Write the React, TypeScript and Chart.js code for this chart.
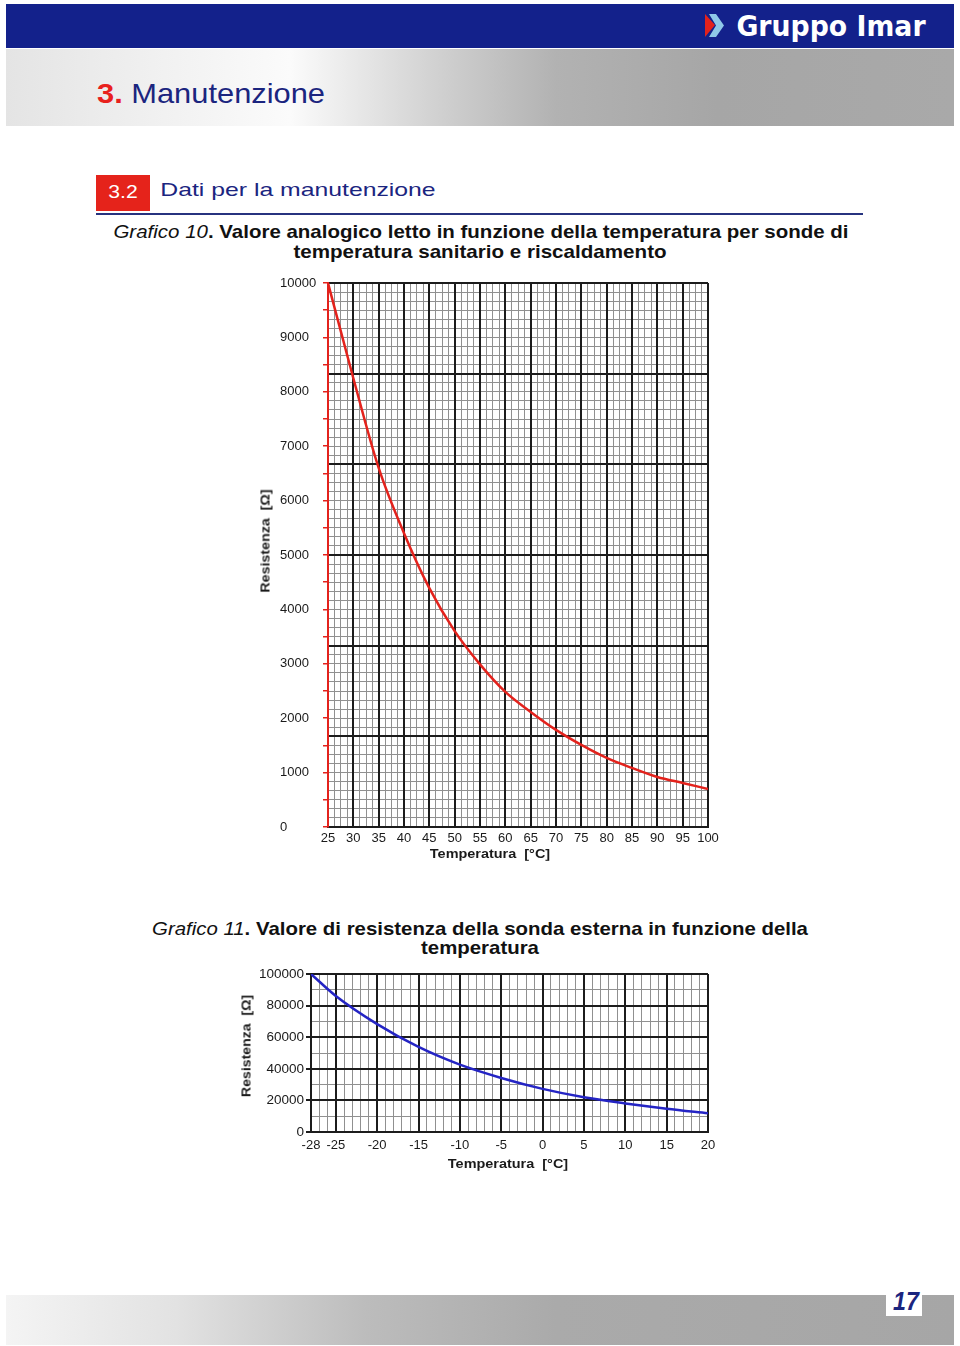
import React, { useEffect, useLayoutEffect, useRef, useState } from 'react';
import { Chart, registerables } from 'chart.js';

Chart.register(...registerables);

// ---------- Grafico 10 data ----------
const G10_TEMPERATURE = [25, 30, 35, 40, 45, 50, 55, 60, 65, 70, 75, 80, 85, 90, 95, 100];
const G10_RESISTANCE = [10000, 8250, 6600, 5400, 4390, 3600, 2990, 2484, 2116, 1785, 1509, 1270, 1086, 920, 810, 700];
const G10_X_TICKS = [25, 30, 35, 40, 45, 50, 55, 60, 65, 70, 75, 80, 85, 90, 95, 100];
const G10_Y_MIN = 0;
const G10_Y_MAX = 10000;
const G10_Y_LABEL_STEP = 1000;
const G10_Y_MARK_STEP = 500;

// ---------- Grafico 11 data ----------
const G11_TEMPERATURE = [-28, -25, -20, -15, -10, -5, 0, 5, 10, 15, 20];
const G11_RESISTANCE = [100000, 86100, 68300, 53800, 42600, 34200, 27300, 22000, 18100, 14700, 11800];
const G11_X_TICKS = [-28, -25, -20, -15, -10, -5, 0, 5, 10, 15, 20];
const G11_Y_MIN = 0;
const G11_Y_MAX = 100000;
const G11_Y_STEP = 20000;

const FONT = '"Liberation Sans", Arial, Helvetica, sans-serif';
const MAJOR = '#1c1c1c';
const MINOR = '#909090';
const RED = '#e3221c';
const BLUE = '#2424c4';
const NAVY = '#1b257f';

function range(min: number, max: number, step: number) {
  const out: number[] = [];
  const n = Math.round((max - min) / step);
  for (let i = 0; i <= n; i++) out.push(min + i * step);
  return out;
}

function gridAxis(position: 'left' | 'bottom', min: number, max: number, step: number, color: string, lw: number, z: number) {
  return {
    type: 'linear',
    position,
    min,
    max,
    afterBuildTicks: (s: any) => {
      s.ticks = range(min, max, step).map((v) => ({ value: v }));
    },
    ticks: { display: false },
    grid: { color, lineWidth: lw, drawTicks: false, z },
    border: { display: false },
    afterFit: (s: any) => {
      if (position === 'left') s.width = 0;
      else s.height = 0;
    },
  };
}

function Txt(props: { cx: number; cy: number; w?: number; size: number; rot?: number; style?: any; children: any }) {
  const { cx, cy, w, size, rot = 0, style, children } = props;
  const ref = useRef<HTMLDivElement>(null);
  const [sx, setSx] = useState(1);
  useLayoutEffect(() => {
    const el = ref.current;
    if (!el || !w) return;
    const nat = el.offsetWidth;
    if (nat) setSx(w / nat);
  }, [w]);
  return (
    <div
      ref={ref}
      style={{
        position: 'absolute',
        left: cx,
        top: cy,
        whiteSpace: 'pre',
        fontFamily: FONT,
        fontSize: size,
        lineHeight: 'normal',
        transformOrigin: 'center',
        transform: `translate(-50%,-50%) rotate(${rot}deg) scaleX(${sx})`,
        ...style,
      }}
    >
      {children}
    </div>
  );
}

function Chart10() {
  const ref = useRef<HTMLCanvasElement>(null);
  useEffect(() => {
    const chart = new Chart(ref.current as HTMLCanvasElement, {
      type: 'line',
      data: {
        datasets: [
          {
            data: G10_TEMPERATURE.map((t, i) => ({ x: t, y: G10_RESISTANCE[i] })),
            borderColor: RED,
            borderWidth: 2.5,
            pointRadius: 0,
            cubicInterpolationMode: 'monotone',
            fill: false,
            xAxisID: 'x',
            yAxisID: 'y',
          },
        ],
      },
      options: {
        responsive: false,
        animation: false,
        devicePixelRatio: 1,
        layout: { padding: { left: 30, top: 13, right: 22, bottom: 0 } },
        plugins: { legend: { display: false }, tooltip: { enabled: false } },
        scales: {
          x: {
            type: 'linear',
            position: 'bottom',
            min: G10_X_TICKS[0],
            max: G10_X_TICKS[G10_X_TICKS.length - 1],
            afterBuildTicks: (s: any) => {
              s.ticks = G10_X_TICKS.map((v) => ({ value: v }));
            },
            ticks: { autoSkip: false, maxRotation: 0, padding: 4, color: '#1a1a1a', font: { family: FONT, size: 13 }, callback: (v: any) => String(v) },
            grid: { color: MAJOR, lineWidth: 2, drawTicks: false, z: -1 },
            border: { color: MAJOR, width: 2 },
            afterFit: (s: any) => {
              s.height = 43;
            },
          },
          xMinor: gridAxis('bottom', 25, 100, 1.25, MINOR, 1, -2),
          y: {
            type: 'linear',
            position: 'left',
            min: G10_Y_MIN,
            max: G10_Y_MAX,
            ticks: {
              stepSize: G10_Y_MARK_STEP,
              autoSkip: false,
              crossAlign: 'far',
              color: '#1a1a1a',
              font: { family: FONT, size: 13 },
              callback: (v: any) => (Number(v) % G10_Y_LABEL_STEP === 0 ? String(v) : ''),
            },
            grid: { drawOnChartArea: false, color: RED, lineWidth: 1.5, tickLength: 5 },
            border: { color: RED, width: 2 },
            afterFit: (s: any) => {
              s.width = 48;
            },
          },
          yMajor: gridAxis('left', 0, 10000, 10000 / 6, MAJOR, 2, -1),
          yMinor: gridAxis('left', 0, 10000, 10000 / 60, MINOR, 1, -2),
        },
      } as any,
    });
    return () => chart.destroy();
  }, []);
  return <canvas ref={ref} width={480} height={600} style={{ position: 'absolute', left: 250, top: 270, width: 480, height: 600 }} />;
}

function Chart11() {
  const ref = useRef<HTMLCanvasElement>(null);
  useEffect(() => {
    const chart = new Chart(ref.current as HTMLCanvasElement, {
      type: 'line',
      data: {
        datasets: [
          {
            data: G11_TEMPERATURE.map((t, i) => ({ x: t, y: G11_RESISTANCE[i] })),
            borderColor: BLUE,
            borderWidth: 2.5,
            pointRadius: 0,
            cubicInterpolationMode: 'monotone',
            fill: false,
            xAxisID: 'x',
            yAxisID: 'y',
          },
        ],
      },
      options: {
        responsive: false,
        animation: false,
        devicePixelRatio: 1,
        layout: { padding: { left: 0, top: 14, right: 22, bottom: 0 } },
        plugins: { legend: { display: false }, tooltip: { enabled: false } },
        scales: {
          x: {
            type: 'linear',
            position: 'bottom',
            min: G11_X_TICKS[0],
            max: G11_X_TICKS[G11_X_TICKS.length - 1],
            afterBuildTicks: (s: any) => {
              s.ticks = G11_X_TICKS.map((v) => ({ value: v }));
            },
            ticks: { autoSkip: false, maxRotation: 0, padding: 6, color: '#1a1a1a', font: { family: FONT, size: 13 }, callback: (v: any) => String(v) },
            grid: { color: MAJOR, lineWidth: 2, drawTicks: false, z: -1 },
            border: { color: MAJOR, width: 2 },
            afterFit: (s: any) => {
              s.height = 28;
            },
          },
          xMinor: gridAxis('bottom', -28, 20, 1, MINOR, 1, -2),
          y: {
            type: 'linear',
            position: 'left',
            min: G11_Y_MIN,
            max: G11_Y_MAX,
            ticks: { stepSize: G11_Y_STEP, padding: 2, color: '#1a1a1a', font: { family: FONT, size: 13.5 }, callback: (v: any) => String(v) },
            grid: { color: MAJOR, lineWidth: 2, tickLength: 5, z: -1 },
            border: { color: MAJOR, width: 2 },
            afterFit: (s: any) => {
              s.width = 81;
            },
          },
          yMinor: gridAxis('left', 0, 100000, 10000, MINOR, 1, -2),
        },
      } as any,
    });
    return () => chart.destroy();
  }, []);
  return <canvas ref={ref} width={500} height={200} style={{ position: 'absolute', left: 230, top: 960, width: 500, height: 200 }} />;
}

export default function App() {
  return (
    <div style={{ position: 'absolute', left: 0, top: 0, width: 960, height: 1346, overflow: 'hidden', background: '#fff', fontFamily: FONT }}>
      {/* header blue band */}
      <div style={{ position: 'absolute', left: 6, top: 4, width: 948, height: 44, background: '#13218b' }} />
      <svg style={{ position: 'absolute', left: 700, top: 10, width: 30, height: 32 }} viewBox="0 0 30 32">
        <polygon points="5,4 15,15 5,27" fill="#e3221c" />
        <polygon points="9,4 16,4 24,15.5 16,27 9,27 16,15.5" fill="#8fc8e8" />
      </svg>
      <Txt cx={830.5} cy={25.5} w={189} size={29} style={{ color: '#fff', fontWeight: 'bold', fontFamily: '"DejaVu Sans", Arial, sans-serif' }}>
        Gruppo Imar
      </Txt>
      {/* gray band */}
      <div
        style={{
          position: 'absolute',
          left: 6,
          top: 49,
          width: 948,
          height: 77,
          background: 'linear-gradient(90deg, #e4e4e4 0%, #f2f2f2 18%, #fbfbfb 30%, #d2d2d2 45%, #b2b2b2 58%, #a6a6a6 75%, #a9a9a9 100%)',
        }}
      />
      <Txt cx={211} cy={94} w={228} size={28}>
        <span style={{ color: '#e8211d', fontWeight: 'bold' }}>3.</span>
        <span style={{ color: NAVY }}> Manutenzione</span>
      </Txt>

      {/* section heading */}
      <div style={{ position: 'absolute', left: 96, top: 175, width: 54, height: 36, background: '#e5231b' }} />
      <Txt cx={122.5} cy={192} w={29} size={19} style={{ color: '#fff' }}>
        3.2
      </Txt>
      <Txt cx={297.5} cy={190} w={275} size={19} style={{ color: NAVY }}>
        Dati per la manutenzione
      </Txt>
      <div style={{ position: 'absolute', left: 96, top: 213, width: 767, height: 2, background: '#27337f' }} />

      {/* Grafico 10 title */}
      <Txt cx={480.5} cy={232} w={735} size={18.5} style={{ color: '#111' }}>
        <span style={{ fontStyle: 'italic' }}>Grafico 10</span>
        <span style={{ fontWeight: 'bold' }}>. Valore analogico letto in funzione della temperatura per sonde di</span>
      </Txt>
      <Txt cx={479.5} cy={252} w={373} size={18.5} style={{ color: '#111', fontWeight: 'bold' }}>
        temperatura sanitario e riscaldamento
      </Txt>

      <Chart10 />
      <Txt cx={265} cy={541} w={103} size={13} rot={-90} style={{ color: '#1a1a1a', fontWeight: 'bold' }}>
        {'Resistenza  [\u03A9]'}
      </Txt>
      <Txt cx={490} cy={853} w={120} size={13} style={{ color: '#1a1a1a', fontWeight: 'bold' }}>
        {'Temperatura  [°C]'}
      </Txt>

      {/* Grafico 11 title */}
      <Txt cx={480} cy={929} w={656} size={18.5} style={{ color: '#111' }}>
        <span style={{ fontStyle: 'italic' }}>Grafico 11</span>
        <span style={{ fontWeight: 'bold' }}>. Valore di resistenza della sonda esterna in funzione della</span>
      </Txt>
      <Txt cx={480} cy={948} w={118} size={18.5} style={{ color: '#111', fontWeight: 'bold' }}>
        temperatura
      </Txt>

      <Chart11 />
      <Txt cx={246} cy={1046} w={102} size={13} rot={-90} style={{ color: '#1a1a1a', fontWeight: 'bold' }}>
        {'Resistenza  [\u03A9]'}
      </Txt>
      <Txt cx={508} cy={1163} w={120} size={13} style={{ color: '#1a1a1a', fontWeight: 'bold' }}>
        {'Temperatura  [°C]'}
      </Txt>

      {/* footer */}
      <div
        style={{
          position: 'absolute',
          left: 6,
          top: 1295,
          width: 948,
          height: 50,
          background: 'linear-gradient(90deg, #f4f4f4 0%, #e2e2e2 18%, #bcbcbc 38%, #aaaaaa 58%, #a6a6a6 100%)',
        }}
      />
      <div style={{ position: 'absolute', left: 886, top: 1289, width: 36, height: 27, background: '#fff' }} />
      <Txt cx={905.5} cy={1301} w={26} size={25} style={{ color: NAVY, fontWeight: 'bold', fontStyle: 'italic' }}>
        17
      </Txt>
    </div>
  );
}
